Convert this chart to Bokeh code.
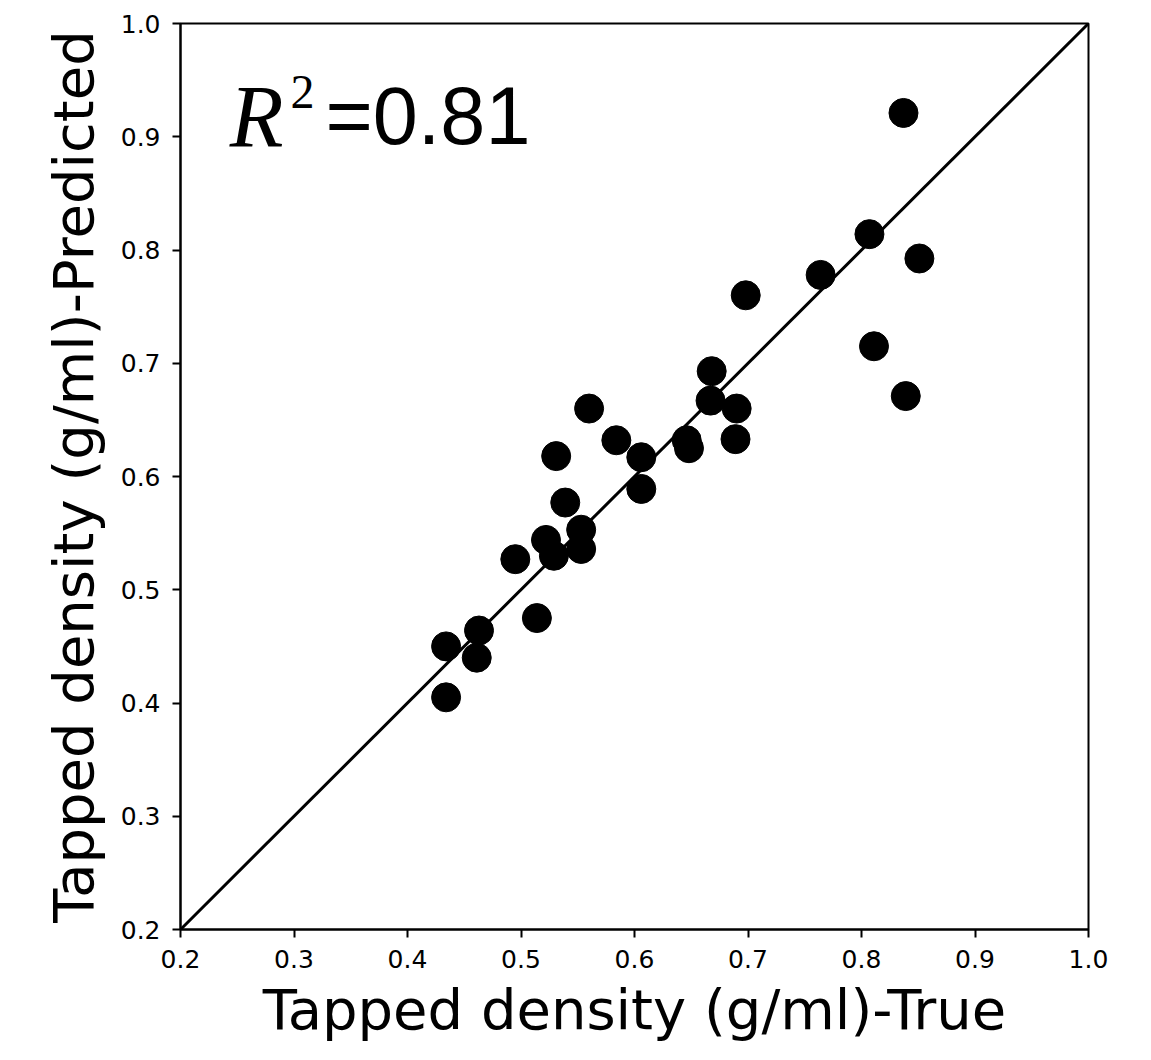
from bokeh.plotting import figure
from bokeh.models import Range1d, FixedTicker, Label, Slope
from bokeh.embed import file_html
from bokeh.resources import INLINE

# Data
true_density = [0.837, 0.807, 0.851, 0.764, 0.698, 0.811, 0.839, 0.668, 0.667, 0.690,
                0.689, 0.560, 0.584, 0.646, 0.648, 0.606, 0.606, 0.531, 0.539, 0.553,
                0.553, 0.522, 0.529, 0.495, 0.514, 0.463, 0.434, 0.461, 0.434]
pred_density = [0.921, 0.814, 0.7925, 0.778, 0.760, 0.715, 0.671, 0.693, 0.667, 0.660,
                0.633, 0.660, 0.632, 0.632, 0.625, 0.617, 0.589, 0.618, 0.577, 0.553,
                0.536, 0.544, 0.530, 0.527, 0.475, 0.464, 0.450, 0.440, 0.405]
tick_values = [0.2, 0.3, 0.4, 0.5, 0.6, 0.7, 0.8, 0.9, 1.0]
tick_labels = ["0.2", "0.3", "0.4", "0.5", "0.6", "0.7", "0.8", "0.9", "1.0"]
x_label = "Tapped density (g/ml)-True"
y_label = "Tapped density (g/ml)-Predicted"
r2_text = "=0.81"

FONT = "DejaVu Sans"

p = figure(width=1143, height=1056, output_backend="svg", toolbar_location=None,
           x_range=Range1d(0.2, 1.0), y_range=Range1d(0.2, 1.0),
           min_border_left=180, min_border_right=55, min_border_top=23,
           min_border_bottom=127, background_fill_color="white",
           border_fill_color="white")

p.xgrid.visible = False
p.ygrid.visible = False
p.outline_line_color = "black"
p.outline_line_width = 2
p.outline_line_alpha = 1

for ax in (p.xaxis[0], p.yaxis[0]):
    ax.ticker = FixedTicker(ticks=tick_values)
    ax.major_label_overrides = {v: s for v, s in zip(tick_values, tick_labels)}
    ax.axis_line_color = "black"
    ax.axis_line_width = 2
    ax.major_tick_line_color = "black"
    ax.major_tick_line_width = 2
    ax.major_tick_out = 8
    ax.major_tick_in = 0
    ax.minor_tick_line_color = None
    ax.major_label_text_font = FONT
    ax.major_label_text_font_size = "25px"
    ax.major_label_text_color = "black"
    ax.major_label_standoff = 12
    ax.axis_label_text_font = FONT
    ax.axis_label_text_font_size = "56px"
    ax.axis_label_text_font_style = "normal"
    ax.axis_label_text_color = "black"

p.xaxis[0].axis_label = x_label
p.yaxis[0].axis_label = y_label
p.xaxis[0].axis_label_standoff = 6
p.yaxis[0].axis_label_standoff = 12

# identity line
p.add_layout(Slope(gradient=1, y_intercept=0, line_color="black", line_width=3))

p.scatter(true_density, pred_density, size=29, fill_color="black", line_color="black")

# R^2 annotation
p.add_layout(Label(x=0.2434, y=0.9179, text="R", text_font="Liberation Serif",
                   text_font_style="italic", text_font_size="88px", text_color="black",
                   text_baseline="middle"))
p.add_layout(Label(x=0.2969, y=0.9391, text="2", text_font="Liberation Serif",
                   text_font_size="48px", text_color="black", text_baseline="middle"))
p.add_layout(Label(x=0.32775, y=0.9179, text=r2_text, text_font="Liberation Sans",
                   text_font_size="81px", text_color="black", text_baseline="middle"))

open("out.html", "w").write(file_html(p, INLINE))
